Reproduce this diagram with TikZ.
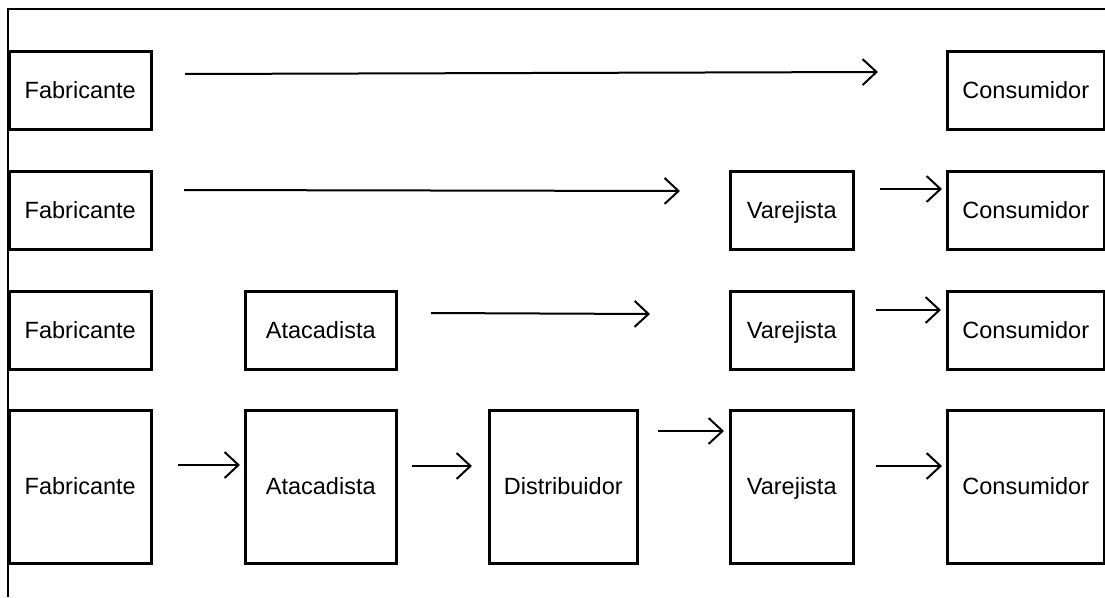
\documentclass[tikz,border=0pt]{standalone}
\usepackage{fontspec}
\setmainfont{Liberation Sans}
\usetikzlibrary{arrows.meta}

\begin{document}
\begin{tikzpicture}[x=1pt,y=-1pt,
  etapa/.style={draw,line width=2.5pt,anchor=north west,inner sep=0pt,
    text height=18pt,text depth=2pt,font=\fontsize{23.5}{28}\selectfont},
  seta/.style={line width=2pt,-{Straight Barb[length=14pt,width=26pt,line width=2pt]}}]
\useasboundingbox (0,0) rectangle (1105,597);
\draw[line width=2.2pt] (8,597) -- (8,9) -- (1105,9);
% colunas que se repetem em todas as linhas
\foreach \y/\h/\n in {50/78/1,170/78/2,290/78/3,409/153/4}{
    \node[etapa,minimum width=142pt,minimum height=\h pt] (fab\n) at (8,\y) {Fabricante};
    \node[etapa,minimum width=157pt,minimum height=\h pt] (con\n) at (946,\y) {Consumidor};
}
\node[etapa,minimum width=123pt,minimum height=78pt] (var2) at (729,170) {Varejista};
\node[etapa,minimum width=123pt,minimum height=78pt] (var3) at (729,290) {Varejista};
\node[etapa,minimum width=123pt,minimum height=153pt] (var4) at (729,409) {Varejista};
\node[etapa,minimum width=151pt,minimum height=78pt] (ata3) at (244,290) {Atacadista};
\node[etapa,minimum width=151pt,minimum height=153pt] (ata4) at (244,409) {Atacadista};
\node[etapa,minimum width=148pt,minimum height=153pt] (dis4) at (488,409) {Distribuidor};
% setas
\coordinate (s1a) at (185,74);  \coordinate (s1b) at (878,72);
\coordinate (s2a) at (184,190); \coordinate (s2b) at (680,191);
\coordinate (s2c) at (880,189); \coordinate (s2d) at (942,189);
\coordinate (s3a) at (431,313); \coordinate (s3b) at (650,314);
\coordinate (s3c) at (876,310); \coordinate (s3d) at (941,310);
\coordinate (s4a) at (178,465); \coordinate (s4b) at (240,465);
\coordinate (s4c) at (412,466); \coordinate (s4d) at (472,466);
\coordinate (s4e) at (658,431); \coordinate (s4f) at (724,431);
\coordinate (s4g) at (876,466); \coordinate (s4h) at (942,466);
\draw[seta] (s1a) -- (s1b);
\draw[seta] (s2a) -- (s2b);
\draw[seta] (s2c) -- (s2d);
\draw[seta] (s3a) -- (s3b);
\draw[seta] (s3c) -- (s3d);
\draw[seta] (s4a) -- (s4b);
\draw[seta] (s4c) -- (s4d);
\draw[seta] (s4e) -- (s4f);
\draw[seta] (s4g) -- (s4h);
\end{tikzpicture}
\end{document}
